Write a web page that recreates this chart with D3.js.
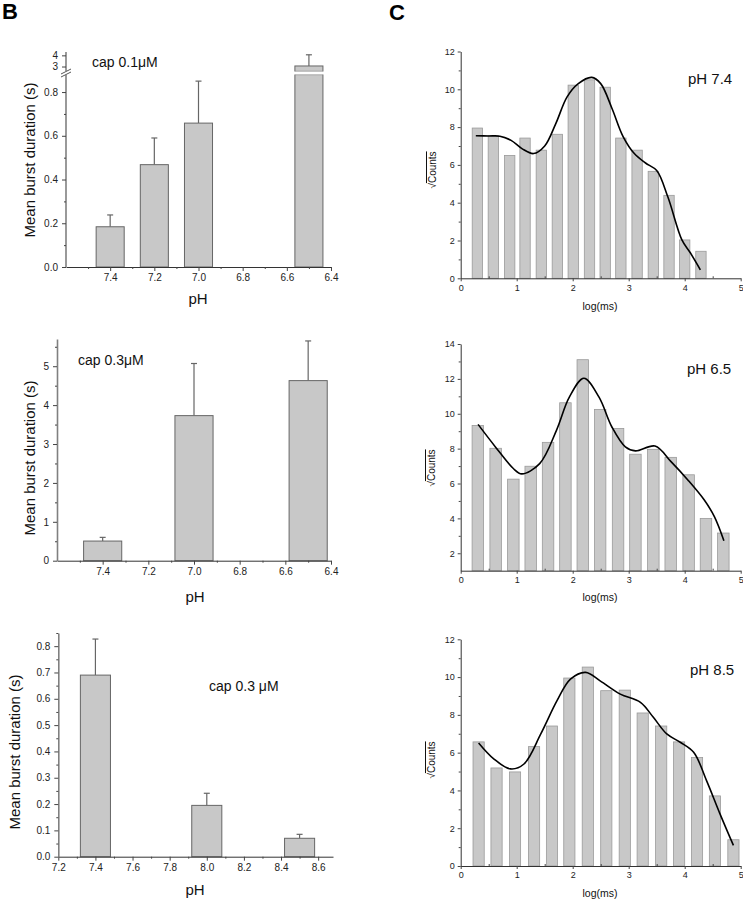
<!DOCTYPE html>
<html><head><meta charset="utf-8">
<script src="https://cdn.jsdelivr.net/npm/d3@7"></script>
<style>
body{margin:0;background:#fff;}
svg{display:block;font-family:"Liberation Sans",Arial,sans-serif;}
</style></head>
<body>
<svg id="chart" width="743" height="900"></svg>
<script>
// ---------- DATA ----------
// Panel B (top): cap 0.1 µM
const b1PH = [7.4, 7.2, 7.0, 6.5];
const b1Mean = [0.184, 0.468, 0.658, 3.05];
const b1Err = [0.054, 0.122, 0.192, 1.0];
const b1XTicks = [7.4, 7.2, 7.0, 6.8, 6.6, 6.4];
const b1YTicks = [0.0, 0.2, 0.4, 0.6, 0.8];
const b1YTicksBroken = [3, 4];
// Panel B (middle): cap 0.3 µM
const b2PH = [7.4, 7.0, 6.5];
const b2Mean = [0.505, 3.73, 4.63];
const b2Err = [0.095, 1.34, 1.02];
const b2XTicks = [7.4, 7.2, 7.0, 6.8, 6.6, 6.4];
const b2YTicks = [0, 1, 2, 3, 4, 5];
// Panel B (bottom): cap 0.3 µM, alkaline
const b3PH = [7.4, 8.0, 8.5];
const b3Mean = [0.69, 0.195, 0.07];
const b3Err = [0.137, 0.046, 0.015];
const b3XTicks = [7.2, 7.4, 7.6, 7.8, 8.0, 8.2, 8.4, 8.6];
const b3YTicks = [0.0, 0.1, 0.2, 0.3, 0.4, 0.5, 0.6, 0.7, 0.8];

// Panel C histograms
const cXTicks = [0, 1, 2, 3, 4, 5];
const h74Bins = [0.298, 0.583, 0.875, 1.149, 1.44, 1.726, 2.01, 2.30, 2.58, 2.86, 3.15, 3.44, 3.72, 4.0, 4.29];
const h74Vals = [7.95, 7.55, 6.5, 7.42, 6.78, 7.62, 10.22, 10.5, 10.11, 7.42, 6.78, 5.66, 4.39, 2.03, 1.43];
const h74FitX = [0.27, 0.5, 0.7, 0.9, 1.1, 1.3, 1.5, 1.7, 1.9, 2.1, 2.34, 2.5, 2.7, 2.9, 3.1, 3.3, 3.5, 3.7, 3.95, 4.1, 4.28];
const h74FitY = [7.54, 7.53, 7.52, 7.3, 6.85, 6.6, 7.0, 8.2, 9.6, 10.3, 10.63, 10.3, 9.0, 7.5, 6.6, 6.1, 5.7, 4.3, 2.03, 1.35, 0.45];
const h74YTicks = [0, 2, 4, 6, 8, 10, 12];

const h65Bins = [0.306, 0.624, 0.94, 1.25, 1.56, 1.87, 2.18, 2.49, 2.81, 3.12, 3.44, 3.75, 4.07, 4.38, 4.69];
const h65Vals = [9.33, 8.02, 6.25, 6.99, 8.36, 10.63, 13.1, 10.25, 9.16, 7.68, 7.96, 7.5, 6.5, 4.0, 3.16];
const h65FitX = [0.31, 0.62, 0.94, 1.09, 1.41, 1.71, 1.94, 2.2, 2.47, 2.7, 2.94, 3.12, 3.47, 3.76, 4.06, 4.35, 4.53, 4.7];
const h65FitY = [9.39, 8.1, 6.86, 6.55, 7.14, 9.05, 10.95, 12.04, 10.95, 9.24, 8.1, 7.87, 8.15, 7.24, 6.19, 5.05, 4.1, 2.72];
const h65YTicks = [2, 4, 6, 8, 10, 12, 14];

const h85Bins = [0.32, 0.64, 0.97, 1.31, 1.63, 1.94, 2.27, 2.6, 2.93, 3.25, 3.58, 3.9, 4.22, 4.54, 4.87];
const h85Vals = [6.57, 5.19, 4.98, 6.32, 7.41, 9.95, 10.53, 9.28, 9.31, 8.1, 7.41, 6.57, 5.74, 3.71, 1.39];
const h85FitX = [0.32, 0.59, 0.89, 1.13, 1.43, 1.72, 1.96, 2.23, 2.49, 2.85, 3.21, 3.44, 3.68, 3.92, 4.16, 4.39, 4.63, 4.87];
const h85FitY = [6.51, 5.67, 5.14, 5.4, 6.99, 8.75, 9.89, 10.25, 9.8, 9.1, 8.66, 7.87, 6.99, 6.55, 6.02, 4.52, 2.76, 1.09];
const h85YTicks = [0, 2, 4, 6, 8, 10, 12];

// ---------- DRAW ----------
const svg = d3.select("#chart");
const FONT = "'Liberation Sans', Arial, sans-serif";
const BAR_FILL = "#c8c8c8";

function styleAxis(g, stroke, width, fs) {
  g.select(".domain").attr("stroke", stroke).attr("stroke-width", width);
  g.selectAll(".tick line").attr("stroke", "#444");
  g.selectAll(".tick text").attr("fill", "#222").style("font-size", fs + "px").style("font-family", FONT);
}

function minorAxis(g, axisGen, values, size) {
  g.call(axisGen.tickValues(values).tickSize(size).tickFormat(""));
  g.select(".domain").remove();
  g.selectAll(".tick line").attr("stroke", "#444");
}

function range(a, b, s) { const r = []; for (let v = a; v <= b + 1e-9; v += s) r.push(+v.toFixed(4)); return r; }

// Left panel generic
function leftPanel(o) {
  const x = d3.scaleLinear().domain(o.xDom).range(o.xRange);
  const y = d3.scaleLinear().domain(o.yDom).range(o.yRange);
  const g = svg.append("g");
  const hw = o.barW / 2;
  o.ph.forEach((p, i) => {
    const v = o.mean[i], e = o.err[i];
    const cx = x(p);
    const bx = Math.min(x(p - hw), x(p + hw));
    const bw = Math.abs(x(p + hw) - x(p - hw));
    if (o.broken && v > o.yDom[1]) {
      const yu = o.yUp;
      g.append("line").attr("x1", cx).attr("x2", cx).attr("y1", yu(v)).attr("y2", yu(v + e)).attr("stroke", "#666").attr("stroke-width", 1.2);
      g.append("line").attr("x1", cx - 3).attr("x2", cx + 3).attr("y1", yu(v + e)).attr("y2", yu(v + e)).attr("stroke", "#666").attr("stroke-width", 1.2);
      g.append("rect").attr("x", bx).attr("width", bw)
        .attr("y", yu(v)).attr("height", yu(o.upDom[0]) - yu(v))
        .attr("fill", BAR_FILL).attr("stroke", "#666").attr("stroke-width", 1);
      g.append("rect").attr("x", bx).attr("width", bw)
        .attr("y", y(o.yDom[1])).attr("height", y(0) - y(o.yDom[1]))
        .attr("fill", BAR_FILL).attr("stroke", "#666").attr("stroke-width", 1);
      g.append("line").attr("x1", bx + 0.6).attr("x2", bx + bw - 0.6).attr("y1", y(o.yDom[1])).attr("y2", y(o.yDom[1])).attr("stroke", BAR_FILL).attr("stroke-width", 1.5);
      g.append("line").attr("x1", bx + 0.6).attr("x2", bx + bw - 0.6).attr("y1", yu(o.upDom[0])).attr("y2", yu(o.upDom[0])).attr("stroke", BAR_FILL).attr("stroke-width", 1.5);
    } else {
      g.append("line").attr("x1", cx).attr("x2", cx).attr("y1", y(v)).attr("y2", y(v + e)).attr("stroke", "#666").attr("stroke-width", 1.2);
      g.append("line").attr("x1", cx - 3).attr("x2", cx + 3).attr("y1", y(v + e)).attr("y2", y(v + e)).attr("stroke", "#666").attr("stroke-width", 1.2);
      g.append("rect").attr("x", bx).attr("width", bw)
        .attr("y", y(v)).attr("height", y(0) - y(v))
        .attr("fill", BAR_FILL).attr("stroke", "#666").attr("stroke-width", 1);
    }
  });
  const xa = g.append("g").attr("transform", `translate(0,${o.yRange[0]})`)
    .call(d3.axisBottom(x).tickValues(o.xTicks).tickSizeInner(4).tickSizeOuter(0).tickPadding(3).tickFormat(d3.format(".1f")));
  styleAxis(xa, "#333", 1, 10);
  minorAxis(g.append("g").attr("transform", `translate(0,${o.yRange[0]})`), d3.axisBottom(x), o.xMinor, 2);
  const ya = g.append("g").attr("transform", `translate(${o.xRange[0]},0)`)
    .call(d3.axisLeft(y).tickValues(o.yTicks).tickSizeInner(4).tickSizeOuter(0).tickPadding(4).tickFormat(o.yFmt));
  styleAxis(ya, "#808080", 1.6, 10);
  if (o.broken) ya.select(".domain").attr("d", `M0,${o.yRange[0]}V${o.yRange[1]}`);
  minorAxis(g.append("g").attr("transform", `translate(${o.xRange[0]},0)`), d3.axisLeft(y), o.yMinor, 2);
  if (o.broken) {
    const yu = o.yUp;
    const ua = g.append("g").attr("transform", `translate(${o.xRange[0]},0)`)
      .call(d3.axisLeft(yu).tickValues(o.upTicks).tickSizeInner(4).tickSizeOuter(0).tickPadding(4).tickFormat(d3.format("d")));
    styleAxis(ua, "#808080", 1.6, 10);
    ua.select(".domain").attr("d", `M0,${yu(o.upDom[0])}V${yu(o.upDom[1])}`);
    const x0 = o.xRange[0];
    [yu(o.upDom[0]) + 0.5, y(o.yDom[1]) - 0.5].forEach(yy => {
      g.append("line").attr("x1", x0 - 5).attr("x2", x0 + 5).attr("y1", yy + 2.5).attr("y2", yy - 2.5)
        .attr("stroke", "#555").attr("stroke-width", 1);
    });
  }
  svg.append("text").attr("transform", `translate(${o.yLab[0]},${o.yLab[1]}) rotate(-90)`)
    .attr("text-anchor", "middle").style("font-size", "15px").style("font-family", FONT).attr("fill", "#111")
    .text("Mean burst duration (s)");
  svg.append("text").attr("x", o.xLab[0]).attr("y", o.xLab[1]).attr("text-anchor", "middle")
    .style("font-size", "15px").style("font-family", FONT).attr("fill", "#111").text("pH");
  svg.append("text").attr("x", o.cap[0]).attr("y", o.cap[1])
    .style("font-size", "14px").style("font-family", FONT).attr("fill", "#111").text(o.capText);
}

const b1UpDom = [2.6, 4.3];
leftPanel({
  xDom: [7.6, 6.4], xRange: [66, 331], yDom: [0, 0.878], yRange: [267, 75],
  broken: true, upDom: b1UpDom, yUp: d3.scaleLinear().domain(b1UpDom).range([71, 52]), upTicks: b1YTicksBroken,
  ph: b1PH, mean: b1Mean, err: b1Err, barW: 0.127,
  xTicks: b1XTicks, xMinor: range(6.5, 7.5, 0.2),
  yTicks: b1YTicks, yMinor: range(0.1, 0.7, 0.2), yFmt: d3.format(".1f"),
  yLab: [35, 160], xLab: [198, 304], cap: [92, 67], capText: "cap 0.1μM"
});
leftPanel({
  xDom: [7.6, 6.4], xRange: [57, 331], yDom: [0, 5.7], yRange: [560.7, 339],
  ph: b2PH, mean: b2Mean, err: b2Err, barW: 0.167,
  xTicks: b2XTicks, xMinor: range(6.5, 7.5, 0.2),
  yTicks: b2YTicks, yMinor: range(0.5, 5.5, 1), yFmt: d3.format("d"),
  yLab: [35, 458], xLab: [195, 602], cap: [78, 365], capText: "cap 0.3μM"
});
leftPanel({
  xDom: [7.2, 8.68], xRange: [58.3, 333], yDom: [0, 0.85], yRange: [856.7, 633],
  ph: b3PH, mean: b3Mean, err: b3Err, barW: 0.162,
  xTicks: b3XTicks, xMinor: range(7.3, 8.5, 0.2),
  yTicks: b3YTicks, yMinor: range(0.05, 0.85, 0.1), yFmt: d3.format(".1f"),
  yLab: [20, 752], xLab: [195, 895], cap: [209, 691], capText: "cap 0.3 μM"
});

function rightPanel(o) {
  const x = d3.scaleLinear().domain([0, 5]).range([460.7, 740.7]);
  const y = d3.scaleLinear().domain(o.yDom).range(o.yRange);
  const g = svg.append("g");
  const hw = o.barW / 2;
  o.bins.forEach((c, i) => {
    g.append("rect").attr("x", x(c - hw)).attr("width", x(c + hw) - x(c - hw))
      .attr("y", y(o.vals[i])).attr("height", y(o.yDom[0]) - y(o.vals[i]))
      .attr("fill", BAR_FILL).attr("stroke", "#9a9a9a").attr("stroke-width", 0.8);
  });
  const pts = o.fitX.map((v, i) => [x(v), y(o.fitY[i])]);
  g.append("path").attr("d", d3.line().curve(d3.curveCatmullRom.alpha(0.5))(pts))
    .attr("fill", "none").attr("stroke", "#000").attr("stroke-width", 1.6);
  const xa = g.append("g").attr("transform", `translate(0,${o.yRange[0]})`)
    .call(d3.axisBottom(x).tickValues(cXTicks).tickSizeInner(3).tickSizeOuter(0).tickPadding(3).tickFormat(d3.format("d")));
  styleAxis(xa, "#333", 1, 9);
  minorAxis(g.append("g").attr("transform", `translate(0,${o.yRange[0]})`), d3.axisTop(x), range(0.5, 4.5, 1), 2);
  const ya = g.append("g").attr("transform", `translate(460.7,0)`)
    .call(d3.axisLeft(y).tickValues(o.yTicks).tickSizeInner(3).tickSizeOuter(0).tickPadding(3).tickFormat(d3.format("d")));
  styleAxis(ya, "#333", 1, 9);
  minorAxis(g.append("g").attr("transform", `translate(460.7,0)`), d3.axisLeft(y), o.yMinor, 2);
  const t = svg.append("text").attr("transform", `translate(${o.yLab[0]},${o.yLab[1]}) rotate(-90)`)
    .attr("text-anchor", "middle").style("font-size", "10px").style("font-family", FONT).attr("fill", "#111");
  t.append("tspan").text("√");
  t.append("tspan").style("text-decoration", "overline").text("Counts");
  svg.append("text").attr("x", 600).attr("y", o.xLab).attr("text-anchor", "middle")
    .style("font-size", "10.5px").style("font-family", FONT).attr("fill", "#111").text("log(ms)");
  svg.append("text").attr("x", o.lab[0]).attr("y", o.lab[1])
    .style("font-size", "15px").style("font-family", FONT).attr("fill", "#111").text(o.labText);
}

rightPanel({ yDom: [0, 12], yRange: [278.3, 51.5], bins: h74Bins, vals: h74Vals, barW: 0.185,
  fitX: h74FitX, fitY: h74FitY, yTicks: h74YTicks, yMinor: range(1, 11, 2),
  yLab: [436, 170], xLab: 310, lab: [688, 84], labText: "pH 7.4" });
rightPanel({ yDom: [1, 14], yRange: [570.7, 344], bins: h65Bins, vals: h65Vals, barW: 0.205,
  fitX: h65FitX, fitY: h65FitY, yTicks: h65YTicks, yMinor: range(3, 13, 2),
  yLab: [435, 468], xLab: 601, lab: [687, 374], labText: "pH 6.5" });
rightPanel({ yDom: [0, 12], yRange: [866, 639.3], bins: h85Bins, vals: h85Vals, barW: 0.2,
  fitX: h85FitX, fitY: h85FitY, yTicks: h85YTicks, yMinor: range(1, 11, 2),
  yLab: [435, 760], xLab: 897, lab: [690, 675], labText: "pH 8.5" });

svg.append("text").attr("x", 2).attr("y", 19).style("font-size", "22px").style("font-weight", "bold")
  .style("font-family", FONT).text("B");
svg.append("text").attr("x", 389).attr("y", 20).style("font-size", "22px").style("font-weight", "bold")
  .style("font-family", FONT).text("C");
</script>
</body></html>
